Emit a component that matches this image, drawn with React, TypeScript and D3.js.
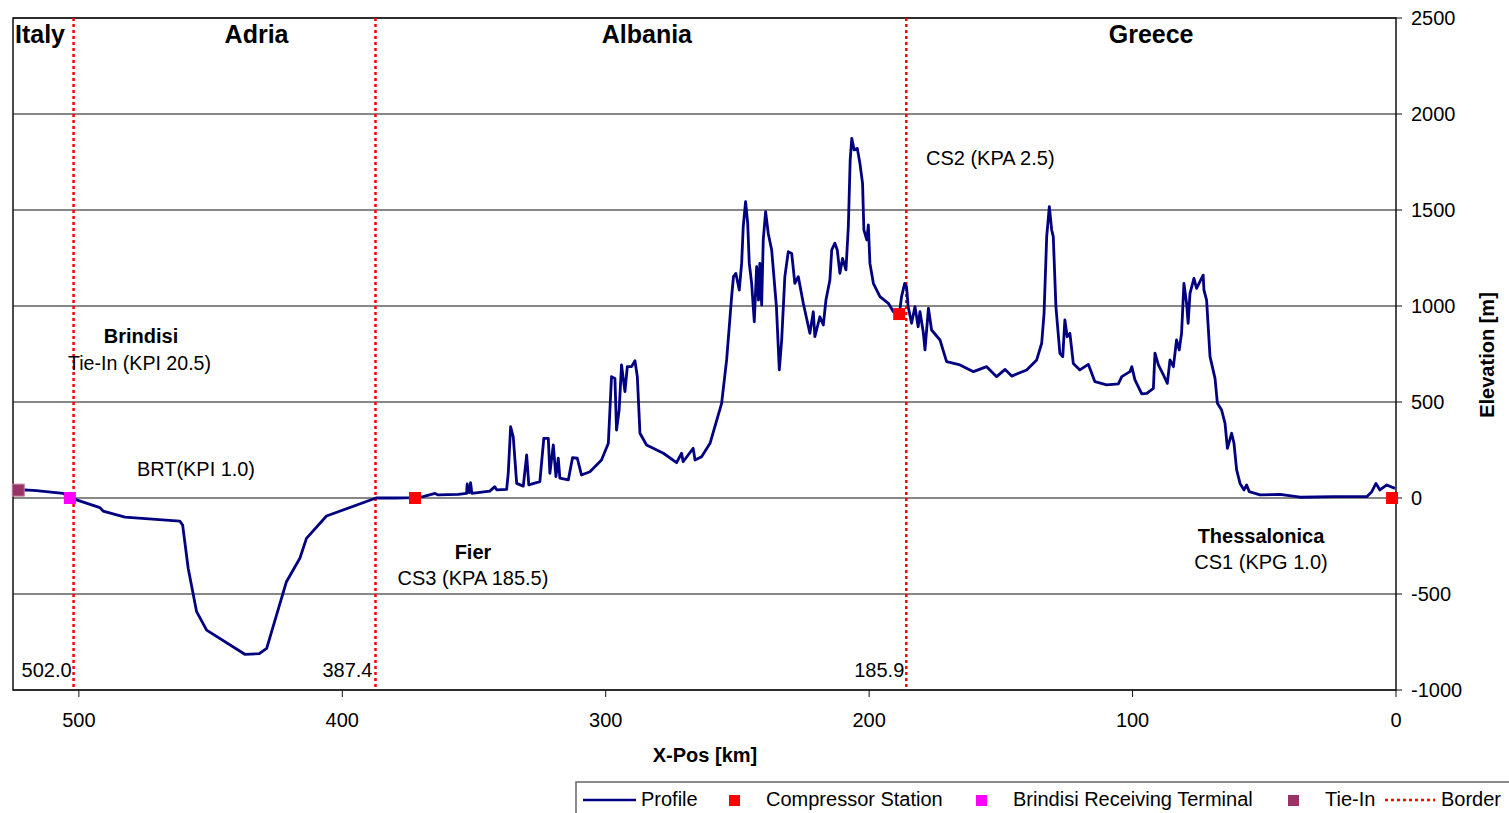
import React from "react";
import * as d3 from "d3";

// Profile: distance along pipeline (km) and elevation (m)
const profileKm: number[] = [
  523.0, 520.5, 516.1, 506.0, 503.4, 500.9, 492.0, 490.8, 482.5, 461.7, 460.6, 458.5, 455.3, 451.5, 437.0, 431.5, 428.7, 421.2, 416.1, 413.6, 406.0, 387.2, 380.0, 372.4,
  369.3, 364.8, 363.6, 356.0, 352.8, 352.6, 351.8, 351.3, 350.8, 344.0, 342.1, 341.4, 337.6, 337.0, 336.1, 335.1, 333.8, 331.3, 330.0, 329.2, 325.0, 323.5, 321.8, 321.2,
  319.9, 318.9, 318.0, 317.4, 314.2, 312.6, 310.8, 309.2, 306.0, 301.6, 299.0, 297.8, 296.5, 295.9, 294.9, 294.0, 292.7, 291.8, 290.2, 288.9, 288.0, 287.0, 284.5, 278.1,
  273.1, 271.2, 270.6, 266.8, 266.1, 263.6, 260.4, 256.0, 254.1, 253.1, 252.2, 251.5, 250.6, 249.3, 248.4, 247.8, 246.9, 246.1, 245.5, 244.6, 243.6, 242.7, 242.0, 241.5,
  240.8, 240.2, 239.3, 238.3, 237.0, 235.2, 234.1, 233.2, 232.0, 230.7, 229.4, 228.2, 226.9, 225.0, 222.5, 221.2, 220.6, 218.7, 217.4, 216.4, 214.9, 214.2, 213.0, 212.1,
  211.1, 210.1, 208.8, 207.9, 207.2, 206.6, 205.7, 204.5, 203.5, 202.5, 202.0, 200.9, 200.3, 199.7, 198.4, 195.9, 192.7, 190.8, 188.6, 187.7, 186.5, 185.8, 185.2, 183.9,
  182.6, 181.4, 180.7, 179.4, 178.8, 177.5, 176.3, 173.1, 170.6, 165.5, 160.4, 155.4, 151.6, 148.4, 145.9, 140.2, 136.4, 134.5, 133.6, 132.6, 131.6, 130.7, 130.1, 129.1,
  127.6, 126.5, 125.7, 124.8, 123.8, 122.5, 120.0, 116.8, 114.3, 109.8, 105.4, 104.1, 101.0, 100.3, 99.1, 96.5, 94.6, 92.1, 91.5, 90.2, 88.3, 86.8, 85.8, 84.5,
  83.3, 82.3, 81.4, 80.5, 79.5, 78.9, 78.2, 76.7, 75.7, 73.2, 72.9, 71.9, 70.6, 68.7, 67.8, 66.2, 64.9, 64.0, 62.4, 61.5, 60.5, 59.2, 57.7, 56.7,
  55.7, 51.6, 44.0, 36.4, 23.8, 11.1, 9.2, 7.6, 6.1, 3.5, 0.4,
];
const profileElev: number[] = [
  41, 42, 38, 24, 3, -10, -50, -68, -100, -120, -141, -366, -592, -688, -814, -811, -783, -436, -314, -210, -94, 0, 0, 2,
  7, 24, 16, 19, 24, 73, 28, 80, 24, 36, 59, 42, 45, 129, 371, 319, 76, 62, 224, 68, 85, 311, 311, 129,
  276, 111, 207, 103, 94, 210, 207, 120, 137, 198, 285, 632, 623, 354, 458, 693, 554, 684, 684, 715, 632, 337, 276, 233,
  184, 233, 189, 259, 198, 215, 285, 493, 719, 892, 1049, 1153, 1170, 1083, 1222, 1413, 1543, 1431, 1222, 1118, 918, 1205, 1031, 1222,
  1005, 1344, 1491, 1378, 1292, 997, 667, 823, 1153, 1283, 1274, 1118, 1153, 1014, 858, 970, 840, 944, 901, 1031, 1135, 1292, 1327, 1292,
  1170, 1248, 1188, 1413, 1760, 1873, 1813, 1821, 1743, 1639, 1396, 1344, 1422, 1222, 1118, 1049, 1014, 970, 950, 1049, 1118, 1101, 997, 910,
  997, 892, 970, 858, 771, 988, 875, 823, 710, 693, 658, 684, 632, 670, 635, 667, 719, 806, 962, 1361, 1517, 1396, 1361, 997,
  754, 736, 927, 840, 858, 701, 667, 696, 606, 589, 594, 632, 658, 684, 615, 542, 545, 571, 754, 693, 641, 597, 719, 684,
  823, 771, 858, 1118, 1014, 910, 1066, 1144, 1092, 1161, 1083, 1031, 736, 623, 493, 458, 389, 259, 337, 285, 146, 76, 42, 68,
  33, 16, 19, 4, 7, 7, 33, 76, 42, 68, 50,
];

// Markers
const compressorKm: number[] = [372.4, 188.6, 1.5];
const compressorElev: number[] = [0, 958, 0];
const brtKm: number[] = [503.4];
const brtElev: number[] = [0];
const tieInKm: number[] = [523.0];
const tieInElev: number[] = [41];

// Borders
const borderKm: number[] = [502.0, 387.4, 185.9];
const borderLabels: string[] = ["502.0", "387.4", "185.9"];

const regionNames: string[] = ["Italy", "Adria", "Albania", "Greece"];
const xTicks: number[] = [500, 400, 300, 200, 100, 0];
const yTicks: number[] = [-1000, -500, 0, 500, 1000, 1500, 2000, 2500];

const legendLabels: string[] = ["Profile", "Compressor Station", "Brindisi Receiving Terminal", "Tie-In", "Border"];

const FONT = "'Liberation Sans', Arial, Helvetica, sans-serif";

export default function App() {
  const W = 1509;
  const H = 813;
  const left = 13, right = 1396, top = 18, bottom = 690;
  const x = d3.scaleLinear().domain([525, 0]).range([left, right]);
  const y = d3.scaleLinear().domain([-1000, 2500]).range([bottom, top]);

  const pts: [number, number][] = profileKm.map((k, i) => [k, profileElev[i]]);
  const line = d3
    .line<[number, number]>()
    .x((d) => x(d[0]))
    .y((d) => y(d[1]));

  const navy = "#000080";
  const red = "#FF0000";
  const magenta = "#FF00FF";
  const tiein = "#993366";
  const ms = 12;
  const fs = 20;

  const regionCenters = [
    { name: regionNames[0], x: 15, anchor: "start" },
    { name: regionNames[1], x: (x(borderKm[0]) + x(borderKm[1])) / 2 + 32, anchor: "middle" },
    { name: regionNames[2], x: (x(borderKm[1]) + x(borderKm[2])) / 2 + 6, anchor: "middle" },
    { name: regionNames[3], x: (x(borderKm[2]) + right) / 2, anchor: "middle" },
  ];

  return (
    <svg
      width={W}
      height={H}
      style={{ position: "absolute", left: 0, top: 0, background: "#fff" }}
      fontFamily={FONT}
    >
      <rect x={0} y={0} width={W} height={H} fill="#fff" />
      {yTicks.map((t) => (
        <line key={"g" + t} x1={left} x2={right} y1={y(t)} y2={y(t)} stroke="#111" strokeWidth={1} />
      ))}
      <rect x={left} y={top} width={right - left} height={bottom - top} fill="none" stroke="#111" strokeWidth={1.5} />
      {yTicks.map((t) => (
        <g key={"yt" + t}>
          <line x1={right} x2={right + 6} y1={y(t)} y2={y(t)} stroke="#111" strokeWidth={1} />
          <text x={right + 15} y={y(t) + 7} fontSize={fs} fill="#000">
            {t}
          </text>
        </g>
      ))}
      {xTicks.map((t) => (
        <g key={"xt" + t}>
          <line x1={x(t)} x2={x(t)} y1={bottom} y2={bottom + 7} stroke="#111" strokeWidth={1} />
          <text x={x(t)} y={727} fontSize={fs} textAnchor="middle" fill="#000">
            {t}
          </text>
        </g>
      ))}
      {borderKm.map((b) => (
        <line key={"b" + b} x1={x(b)} x2={x(b)} y1={top} y2={bottom} stroke={red} strokeWidth={2.5} strokeDasharray="3,3" />
      ))}
      <path d={line(pts) || ""} fill="none" stroke={navy} strokeWidth={2.8} strokeLinejoin="round" />
      {tieInKm.map((k, i) => (
        <rect key={"ti" + i} x={x(k) - ms / 2} y={y(tieInElev[i]) - ms / 2} width={ms} height={ms} fill={tiein} stroke="#c080a0" strokeWidth={1} />
      ))}
      {brtKm.map((k, i) => (
        <rect key={"brt" + i} x={x(k) - ms / 2} y={y(brtElev[i]) - ms / 2} width={ms} height={ms} fill={magenta} />
      ))}
      {compressorKm.map((k, i) => (
        <rect key={"cs" + i} x={x(k) - ms / 2} y={y(compressorElev[i]) - ms / 2} width={ms} height={ms} fill={red} />
      ))}
      {regionCenters.map((r) => (
        <text key={r.name} x={r.x} y={43} fontSize={25} fontWeight="bold" textAnchor={r.anchor as any} fill="#000">
          {r.name}
        </text>
      ))}
      <text x={x(borderKm[0]) - 2} y={677} fontSize={fs} textAnchor="end">{borderLabels[0]}</text>
      <text x={x(borderKm[1]) - 3} y={677} fontSize={fs} textAnchor="end">{borderLabels[1]}</text>
      <text x={x(borderKm[2]) - 2} y={677} fontSize={fs} textAnchor="end">{borderLabels[2]}</text>
      <text x={141} y={343} fontSize={20} fontWeight="bold" textAnchor="middle">Brindisi</text>
      <text x={68} y={370} fontSize={fs} textLength={143} lengthAdjust="spacingAndGlyphs">Tie-In (KPI 20.5)</text>
      <text x={137} y={476} fontSize={fs} textLength={118} lengthAdjust="spacingAndGlyphs">BRT(KPI 1.0)</text>
      <text x={473} y={559} fontSize={20} fontWeight="bold" textAnchor="middle">Fier</text>
      <text x={473} y={585} fontSize={fs} textAnchor="middle">CS3 (KPA 185.5)</text>
      <text x={926} y={165} fontSize={fs}>CS2 (KPA 2.5)</text>
      <text x={1261} y={543} fontSize={20} fontWeight="bold" textAnchor="middle">Thessalonica</text>
      <text x={1261} y={569} fontSize={fs} textAnchor="middle">CS1 (KPG 1.0)</text>
      <text x={705} y={762} fontSize={20} fontWeight="bold" textAnchor="middle">X-Pos [km]</text>
      <text transform="translate(1494,355) rotate(-90)" fontSize={20} fontWeight="bold" textAnchor="middle">Elevation [m]</text>
      <g>
        <rect x={576} y={782} width={940} height={40} fill="#fff" stroke="#666" strokeWidth={1.5} />
        <line x1={583} x2={636} y1={800} y2={800} stroke={navy} strokeWidth={2.5} />
        <text x={641} y={806} fontSize={fs}>{legendLabels[0]}</text>
        <rect x={729} y={795} width={11} height={11} fill={red} />
        <text x={766} y={806} fontSize={fs}>{legendLabels[1]}</text>
        <rect x={976} y={795} width={11} height={11} fill={magenta} />
        <text x={1013} y={806} fontSize={fs}>{legendLabels[2]}</text>
        <rect x={1288} y={795} width={11} height={11} fill={tiein} />
        <text x={1325} y={806} fontSize={fs}>{legendLabels[3]}</text>
        <line x1={1385} x2={1435} y1={800} y2={800} stroke={red} strokeWidth={2.5} strokeDasharray="3,3" />
        <text x={1441} y={806} fontSize={fs}>{legendLabels[4]}</text>
      </g>
    </svg>
  );
}
